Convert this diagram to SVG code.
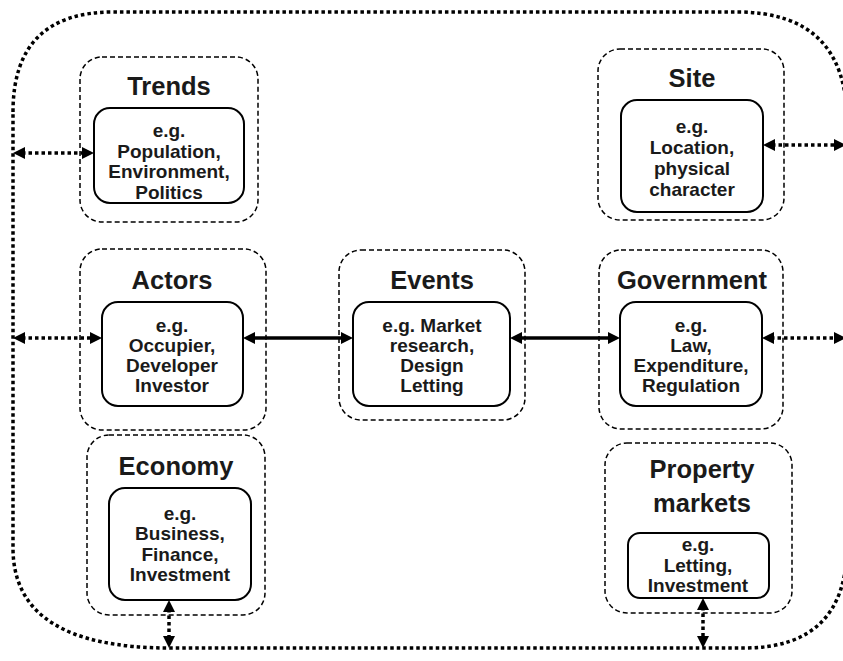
<svg xmlns="http://www.w3.org/2000/svg" width="843" height="661" viewBox="0 0 843 661">
<style>
.outer{fill:none;stroke:#000;stroke-width:1.5;stroke-dasharray:5 3}
.inner{fill:#fff;stroke:#000;stroke-width:2}
.title{font-family:"Liberation Sans",Arial,sans-serif;font-weight:bold;font-size:25.5px;fill:#1a1a1a;text-anchor:middle}
.body{font-family:"Liberation Sans",Arial,sans-serif;font-weight:bold;font-size:19px;fill:#1a1a1a;text-anchor:middle}
.dotted{fill:none;stroke:#000;stroke-width:3.5;stroke-dasharray:3.5 3}
.solid{fill:none;stroke:#000;stroke-width:3.5}
</style>
<defs>
<marker id="ah" viewBox="0 0 12 12" refX="3" refY="6" markerWidth="12" markerHeight="12" markerUnits="userSpaceOnUse" orient="auto-start-reverse">
<path d="M0,0 L12,6 L0,12 z" fill="#000"/>
</marker>
</defs>
<rect width="843" height="661" fill="#fff"/>
<g id="boundary">
<path class="dotted" d="M13,112 Q13,12 113,12 L737,12 Q847,12 847,122 L847,545 Q847,648 744,648 L170,648 Q13,648 13,548 Z"/>
</g>
<g id="trends">
<rect class="outer" x="80" y="57" width="178" height="165" rx="22"/>
<text class="title" x="169" y="95">Trends</text>
<rect class="inner" x="94" y="108" width="150" height="95" rx="16"/>
<text class="body"><tspan x="169" y="137">e.g.</tspan><tspan x="169" y="158">Population,</tspan><tspan x="169" y="178">Environment,</tspan><tspan x="169" y="199">Politics</tspan></text>
</g>
<g id="site">
<rect class="outer" x="598" y="49" width="186" height="171" rx="22"/>
<text class="title" x="692" y="87">Site</text>
<rect class="inner" x="621" y="100" width="142" height="112" rx="16"/>
<text class="body"><tspan x="692" y="133">e.g.</tspan><tspan x="692" y="154">Location,</tspan><tspan x="692" y="175">physical</tspan><tspan x="692" y="196">character</tspan></text>
</g>
<g id="actors">
<rect class="outer" x="80" y="249" width="186" height="181" rx="22"/>
<text class="title" x="172" y="289">Actors</text>
<rect class="inner" x="102" y="302" width="141" height="104" rx="16"/>
<text class="body"><tspan x="172" y="332">e.g.</tspan><tspan x="172" y="352">Occupier,</tspan><tspan x="172" y="372">Developer</tspan><tspan x="172" y="392">Investor</tspan></text>
</g>
<g id="events">
<rect class="outer" x="339" y="250" width="186" height="170" rx="22"/>
<text class="title" x="432" y="289">Events</text>
<rect class="inner" x="353" y="302" width="157" height="104" rx="16"/>
<text class="body"><tspan x="432" y="332">e.g. Market</tspan><tspan x="432" y="352">research,</tspan><tspan x="432" y="372">Design</tspan><tspan x="432" y="392">Letting</tspan></text>
</g>
<g id="government">
<rect class="outer" x="599" y="250" width="184" height="179" rx="22"/>
<text class="title" x="692" y="289">Government</text>
<rect class="inner" x="620" y="302" width="142" height="104" rx="16"/>
<text class="body"><tspan x="691" y="332">e.g.</tspan><tspan x="691" y="352">Law,</tspan><tspan x="691" y="372">Expenditure,</tspan><tspan x="691" y="392">Regulation</tspan></text>
</g>
<g id="economy">
<rect class="outer" x="87" y="435" width="178" height="180" rx="22"/>
<text class="title" x="176" y="475">Economy</text>
<rect class="inner" x="109" y="488" width="142" height="112" rx="16"/>
<text class="body"><tspan x="180" y="520">e.g.</tspan><tspan x="180" y="540">Business,</tspan><tspan x="180" y="561">Finance,</tspan><tspan x="180" y="581">Investment</tspan></text>
</g>
<g id="property-markets">
<rect class="outer" x="605" y="443" width="187" height="170" rx="22"/>
<text class="title"><tspan x="702" y="478">Property</tspan><tspan x="702" y="512">markets</tspan></text>
<rect class="inner" x="628" y="533" width="141" height="65" rx="12"/>
<text class="body"><tspan x="698" y="551">e.g.</tspan><tspan x="698" y="572">Letting,</tspan><tspan x="698" y="592">Investment</tspan></text>
</g>
<g id="connectors">
<line class="dotted" x1="22" y1="153" x2="85" y2="153" marker-start="url(#ah)" marker-end="url(#ah)"/>
<line class="dotted" x1="772" y1="145" x2="837" y2="145" marker-start="url(#ah)" marker-end="url(#ah)"/>
<line class="dotted" x1="22" y1="338" x2="93" y2="338" marker-start="url(#ah)" marker-end="url(#ah)"/>
<line class="solid" x1="252" y1="338" x2="344" y2="338" marker-start="url(#ah)" marker-end="url(#ah)"/>
<line class="solid" x1="519" y1="338" x2="611" y2="338" marker-start="url(#ah)" marker-end="url(#ah)"/>
<line class="dotted" x1="771" y1="338" x2="837" y2="338" marker-start="url(#ah)" marker-end="url(#ah)"/>
<line class="dotted" x1="169" y1="609" x2="169" y2="639" marker-start="url(#ah)" marker-end="url(#ah)"/>
<line class="dotted" x1="703" y1="607" x2="703" y2="639" marker-start="url(#ah)" marker-end="url(#ah)"/>
</g>
</svg>
